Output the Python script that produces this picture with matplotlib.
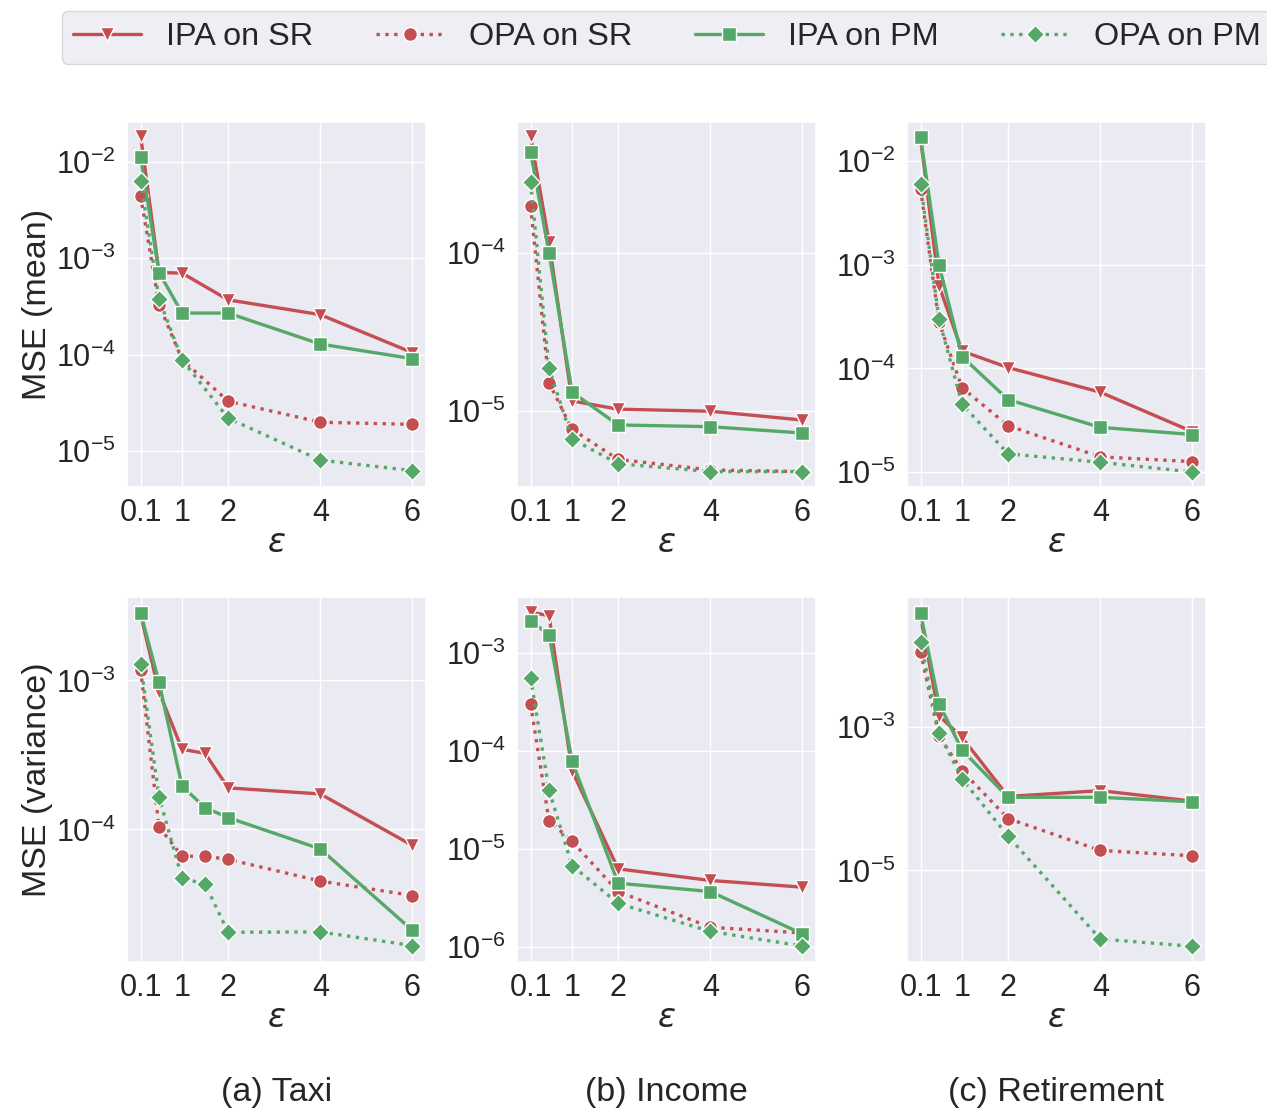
import matplotlib
matplotlib.use("Agg")
import matplotlib.pyplot as plt
import seaborn as sns

# epsilon values
eps = [0.1, 0.5, 1, 2, 4, 6]
eps_taxi_var = [0.1, 0.5, 1, 1.5, 2, 4, 6]

# MSE (mean)
taxi_mean_ipa_sr = [1.86e-2, 7.1e-4, 7.0e-4, 3.7e-4, 2.6e-4, 1.05e-4]
taxi_mean_opa_sr = [4.4e-3, 3.3e-4, 8.9e-5, 3.3e-5, 2.0e-5, 1.9e-5]
taxi_mean_ipa_pm = [1.11e-2, 7.1e-4, 2.7e-4, 2.7e-4, 1.29e-4, 9.1e-5]
taxi_mean_opa_pm = [6.3e-3, 3.8e-4, 8.9e-5, 2.2e-5, 8.1e-6, 6.3e-6]

income_mean_ipa_sr = [5.5e-4, 1.17e-4, 1.15e-5, 1.02e-5, 9.9e-6, 8.7e-6]
income_mean_opa_sr = [1.97e-4, 1.5e-5, 7.6e-6, 4.9e-6, 4.2e-6, 4.1e-6]
income_mean_ipa_pm = [4.35e-4, 1.0e-4, 1.31e-5, 8.1e-6, 7.9e-6, 7.2e-6]
income_mean_opa_pm = [2.8e-4, 1.86e-5, 6.6e-6, 4.6e-6, 4.1e-6, 4.1e-6]

retire_mean_ipa_sr = [1.65e-2, 6.3e-4, 1.47e-4, 1.02e-4, 5.9e-5, 2.45e-5]
retire_mean_opa_sr = [5.4e-3, 2.8e-4, 6.5e-5, 2.8e-5, 1.4e-5, 1.26e-5]
retire_mean_ipa_pm = [1.7e-2, 1.0e-3, 1.3e-4, 5.0e-5, 2.7e-5, 2.3e-5]
retire_mean_opa_pm = [6.0e-3, 3.0e-4, 4.5e-5, 1.5e-5, 1.24e-5, 1.0e-5]

# MSE (variance)
taxi_var_ipa_sr = [2.77e-3, 8.4e-4, 3.45e-4, 3.24e-4, 1.9e-4, 1.73e-4, 7.8e-5]
taxi_var_opa_sr = [1.18e-3, 1.04e-4, 6.6e-5, 6.6e-5, 6.3e-5, 4.5e-5, 3.6e-5]
taxi_var_ipa_pm = [2.85e-3, 9.7e-4, 1.95e-4, 1.4e-4, 1.2e-4, 7.4e-5, 2.1e-5]
taxi_var_opa_pm = [1.29e-3, 1.65e-4, 4.7e-5, 4.3e-5, 2.04e-5, 2.05e-5, 1.66e-5]

income_var_ipa_sr = [2.6e-3, 2.4e-3, 6.3e-5, 6.3e-6, 4.8e-6, 4.1e-6]
income_var_opa_sr = [3.0e-4, 1.95e-5, 1.2e-5, 3.7e-6, 1.6e-6, 1.4e-6]
income_var_ipa_pm = [2.1e-3, 1.54e-3, 7.9e-5, 4.5e-6, 3.7e-6, 1.37e-6]
income_var_opa_pm = [5.6e-4, 4.0e-5, 6.8e-6, 2.8e-6, 1.45e-6, 1.03e-6]

retire_var_ipa_sr = [3.5e-2, 1.45e-3, 7.2e-4, 1.08e-4, 1.3e-4, 9.3e-5]
retire_var_opa_sr = [1.12e-2, 7.6e-4, 2.46e-4, 5.3e-5, 1.9e-5, 1.6e-5]
retire_var_ipa_pm = [3.9e-2, 2.14e-3, 4.8e-4, 1.05e-4, 1.05e-4, 9.1e-5]
retire_var_opa_pm = [1.55e-2, 8.3e-4, 1.9e-4, 3.0e-5, 1.1e-6, 8.7e-7]

series_names = ["IPA on SR", "OPA on SR", "IPA on PM", "OPA on PM"]
captions = ["(a) Taxi", "(b) Income", "(c) Retirement"]
row_labels = ["MSE (mean)", "MSE (variance)"]
xtick_vals = [0.1, 1, 2, 4, 6]
xtick_labels = ["0.1", "1", "2", "4", "6"]

panels = [
    [(eps, [taxi_mean_ipa_sr, taxi_mean_opa_sr, taxi_mean_ipa_pm, taxi_mean_opa_pm]),
     (eps, [income_mean_ipa_sr, income_mean_opa_sr, income_mean_ipa_pm, income_mean_opa_pm]),
     (eps, [retire_mean_ipa_sr, retire_mean_opa_sr, retire_mean_ipa_pm, retire_mean_opa_pm])],
    [(eps_taxi_var, [taxi_var_ipa_sr, taxi_var_opa_sr, taxi_var_ipa_pm, taxi_var_opa_pm]),
     (eps, [income_var_ipa_sr, income_var_opa_sr, income_var_ipa_pm, income_var_opa_pm]),
     (eps, [retire_var_ipa_sr, retire_var_opa_sr, retire_var_ipa_pm, retire_var_opa_pm])],
]
ylims = [[(10**-1.59, 10**-5.37), (10**-3.17, 10**-5.485), (10**-1.62, 10**-5.145)],
         [(10**-2.44, 10**-4.89), (10**-2.43, 10**-6.15), (10**-1.18, 10**-6.28)]]

sns.set_theme(style="darkgrid")
plt.rcParams["font.family"] = ["Liberation Sans", "DejaVu Sans"]

red = "#C44E52"
green = "#55A868"
styles = [dict(color=red, ls="-", marker="v"),
          dict(color=red, ls=":", marker="o"),
          dict(color=green, ls="-", marker="s"),
          dict(color=green, ls=":", marker="D")]

fig = plt.figure(figsize=(12.67, 11.12), dpi=100)
W, H = 1267, 1112
lefts = [127, 517, 907]
tops = [122, 597]
aw, ah = 299, 365

for r in range(2):
    for c in range(3):
        ax = fig.add_axes([lefts[c] / W, 1 - (tops[r] + ah) / H, aw / W, ah / H])
        xs, ys = panels[r][c]
        for y, st, name in zip(ys, styles, series_names):
            ax.plot(xs, y, lw=2.4, ms=10 if st["marker"] != "D" else 9,
                    markeredgecolor="white", markeredgewidth=1.0, label=name, **st)
        ax.set_yscale("log")
        lo, hi = ylims[r][c]
        ax.set_ylim(hi, lo)
        if r == 1 and c == 2:
            ax.set_yticks([1e-3, 1e-5])
        ax.set_xticks(xtick_vals)
        ax.set_xticklabels(xtick_labels)
        ax.tick_params(labelsize=22, pad=2)
        ax.set_xlabel(r"$\varepsilon$", fontsize=24, labelpad=0)
        ax.grid(which="minor", visible=False)
        if c == 0:
            ax.set_ylabel(row_labels[r], fontsize=24.5, labelpad=2)

for c in range(3):
    fig.text((lefts[c] + aw / 2) / W, 1 - 1092 / H, captions[c],
             ha="center", va="center", fontsize=24.5)

handles, labels = fig.axes[0].get_legend_handles_labels()
fig.legend(handles, labels, loc="upper left", bbox_to_anchor=(62 / W, 1 - 11 / H),
           borderaxespad=0, ncol=4, fontsize=23.3, frameon=True, facecolor="#EAEAF2",
           edgecolor="#D0D0D8", handlelength=2.1, handletextpad=0.76, columnspacing=1.95,
           borderpad=0.35)

plt.savefig("out.png", dpi=100)
